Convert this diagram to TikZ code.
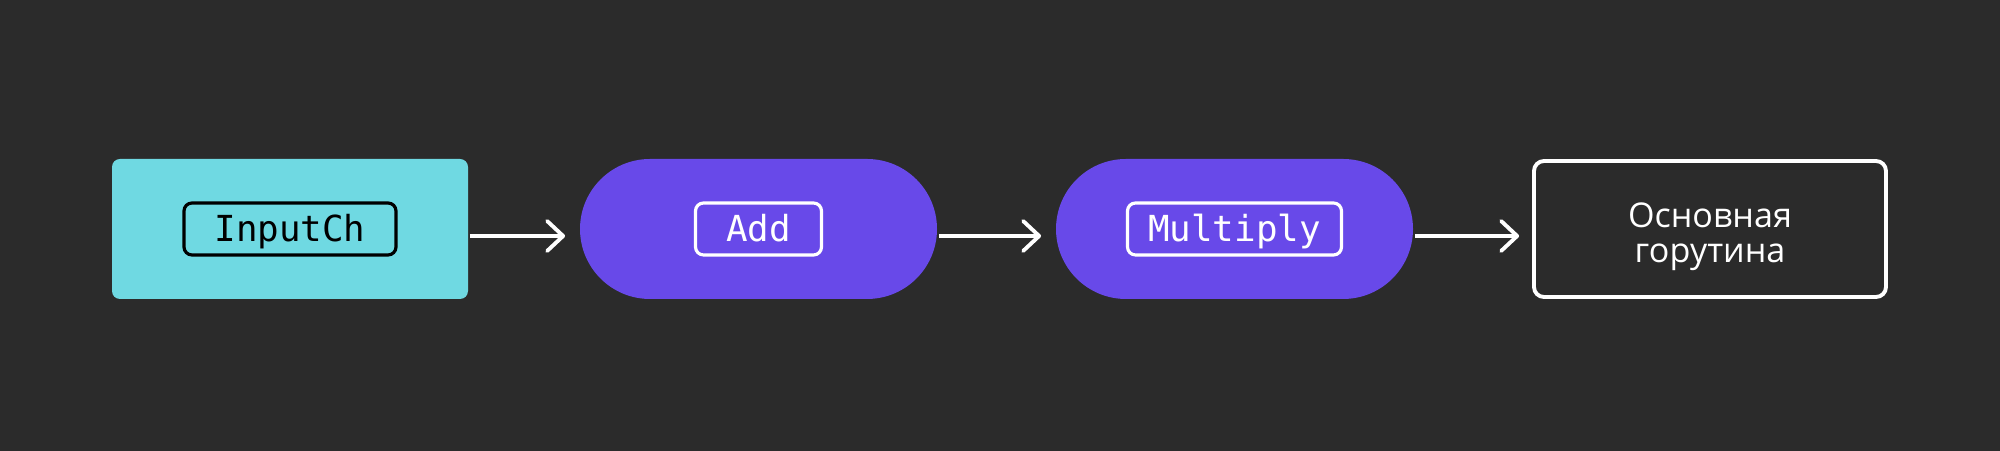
\documentclass[tikz,border=0pt]{standalone}
\usepackage{fontspec}
\setmainfont{Open Sans}
\setmonofont{DejaVu Sans Mono}
\usepackage{xcolor}
\usetikzlibrary{positioning,calc,arrows.meta}
\definecolor{bgdark}{HTML}{2B2B2B}
\definecolor{chancyan}{HTML}{6FD9E2}
\definecolor{pillviolet}{HTML}{6849E9}

\begin{document}
\begin{tikzpicture}[->,>={Straight Barb[length=1.6mm,width=3mm,round]},shorten >= 1.3mm,
			line width=1.1pt,white,
			main node/.style={rectangle, minimum width=3.56cm, minimum height=1.4cm, inner sep=0pt, align=center},
			code node/.style={draw, rectangle, rounded corners=0.8mm, minimum height=0.52cm, inner sep=0pt, line width=0.9pt,
				text height=7.3pt, text depth=0pt, font=\ttfamily\fontsize{10.2}{12}\selectfont}]

			\fill[bgdark] (0,0) rectangle (20,4.51);
			\useasboundingbox (0,0) rectangle (20,4.51);

			\node[main node, fill=chancyan, rounded corners=0.8mm] (1) at (2.90,2.22) {};
			\node[main node, fill=pillviolet, rounded corners=7mm, minimum width=3.57cm] (2) at (7.585,2.22) {};
			\node[main node, fill=pillviolet, rounded corners=7mm, minimum width=3.57cm] (3) at (12.345,2.22) {};
			\node[main node, draw=white, rounded corners=1mm, minimum width=3.52cm, minimum height=1.36cm,
				text=white, text height=19.3pt, text depth=0pt, font=\fontsize{9.7}{10}\selectfont] (4) at (17.10,2.22) {Основная\\горутина};

			\node[code node, draw=black, text=black, minimum width=2.12cm] (5) at (1.center) {InputCh};
			\node[code node, draw=white, text=white, minimum width=1.26cm] (6) at (2.center) {Add};
			\node[code node, draw=white, text=white, minimum width=2.14cm] (7) at (3.center) {Multiply};

			\draw[white] ([yshift=-0.7mm]1.east) -- ([yshift=-0.7mm]2.west);
			\draw[white] ([yshift=-0.7mm]2.east) -- ([yshift=-0.7mm]3.west);
			\draw[white] ([yshift=-0.7mm]3.east) -- ([yshift=-0.7mm]4.west);

		\end{tikzpicture}
\end{document}
